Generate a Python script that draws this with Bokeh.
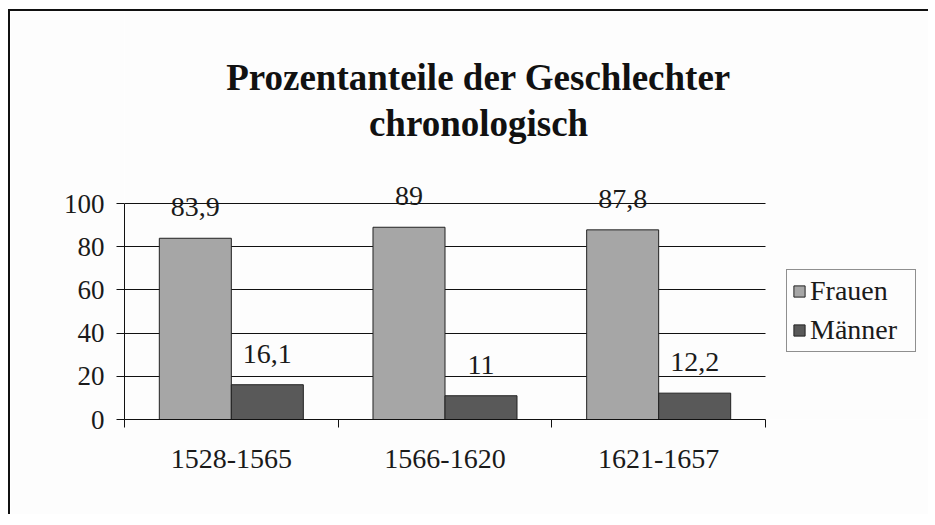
import numpy as np
from bokeh.plotting import figure
from bokeh.models import (Range1d, FixedTicker, ColumnDataSource, LabelSet, Label,
                          Legend, LegendItem)
from bokeh.embed import file_html
from bokeh.resources import INLINE

# ---- data ----
title_lines = ["Prozentanteile der Geschlechter", "chronologisch"]
categories = ["1528-1565", "1566-1620", "1621-1657"]
frauen = [83.9, 89, 87.8]
maenner = [16.1, 11, 12.2]
series_names = ["Frauen", "Männer"]
y_ticks = [0, 20, 40, 60, 80, 100]


def fmt(v):
    return f"{v:g}".replace(".", ",")


FONT = "Liberation Serif"
C_F = "#a6a6a6"
C_M = "#595959"
BG = "#fdfdfd"

# layout in page pixels: canvas origin (10, 11); value 0 at y=419, 100 at y=203;
# categories span x 124..765; frame extended to the top and right for title/legend
OX, OY = 10, 11
W, H = 920, 505
n = len(categories)
y_end = y_ticks[-1] * (419 - OY) / (419 - 203)
x_end = n * (OX + W - 124) / (765 - 124)

p = figure(width=W, height=H, output_backend="svg", toolbar_location=None,
           x_range=Range1d(0, x_end), y_range=Range1d(0, y_end),
           min_border_left=124 - OX, min_border_right=0, min_border_top=0,
           min_border_bottom=OY + H - 419,
           background_fill_color=BG, border_fill_color=BG, outline_line_color=None,
           styles={"margin-left": "8px", "margin-top": "9px",
                   "border-left": "2px solid #111", "border-top": "2px solid #111"})

idx = np.arange(n)
bw = 0.337
src = ColumnDataSource(dict(
    xf=idx + 0.5 - bw / 2, xm=idx + 0.5 + bw / 2,
    f=frauen, m=maenner,
    ft=[fmt(v) for v in frauen], mt=[fmt(v) for v in maenner]))

rf = p.vbar(x="xf", top="f", width=bw, source=src, fill_color=C_F,
            line_color="#222222", line_width=1)
rm = p.vbar(x="xm", top="m", width=bw, source=src, fill_color=C_M,
            line_color="#222222", line_width=1)

for xcol, ycol, tcol in (("xf", "f", "ft"), ("xm", "m", "mt")):
    p.add_layout(LabelSet(x=xcol, y=ycol, text=tcol, source=src, y_offset=22,
                          text_align="center", text_baseline="alphabetic",
                          text_font=FONT, text_font_size="28px", text_color="#1a1a1a"))

# axes / grid
p.xgrid.visible = False
p.ygrid.grid_line_color = "#111111"
p.ygrid.grid_line_width = 1
p.ygrid.cross_bounds = (0, n)
p.yaxis.ticker = FixedTicker(ticks=y_ticks)
p.yaxis.bounds = (y_ticks[0], y_ticks[-1])
p.yaxis.axis_line_color = "#111111"
p.yaxis.major_tick_line_color = "#111111"
p.yaxis.major_tick_out = 8
p.yaxis.major_tick_in = 0
p.yaxis.minor_tick_line_color = None
p.yaxis.major_label_standoff = 12
p.yaxis.major_label_text_font = FONT
p.yaxis.major_label_text_font_size = "27px"
p.yaxis.major_label_text_color = "#1a1a1a"

p.xaxis.ticker = FixedTicker(ticks=list(idx + 0.5), minor_ticks=list(range(n + 1)))
p.xaxis.major_label_overrides = {float(i + 0.5): c for i, c in enumerate(categories)}
p.xaxis.bounds = (0, n)
p.xaxis.axis_line_color = "#111111"
p.xaxis.major_tick_line_color = None
p.xaxis.major_tick_out = 0
p.xaxis.major_tick_in = 0
p.xaxis.minor_tick_line_color = "#111111"
p.xaxis.minor_tick_out = 8
p.xaxis.minor_tick_in = 0
p.xaxis.major_label_standoff = 22
p.xaxis.major_label_text_font = FONT
p.xaxis.major_label_text_font_size = "28px"
p.xaxis.major_label_text_color = "#1a1a1a"

# title (two centred lines), placed in value units above the plot area
for line, yv in zip(title_lines, (158.5, 137.2)):
    p.add_layout(Label(x=1.657, y=yv, text=line, text_align="center",
                       text_baseline="alphabetic", text_font=FONT,
                       text_font_size="37px", text_font_style="bold",
                       text_color="#111111"))

legend = Legend(items=[LegendItem(label=series_names[0], renderers=[rf]),
                       LegendItem(label=series_names[1], renderers=[rm])],
                location=(786 - 124, 419 - 352), orientation="vertical",
                label_text_font=FONT, label_text_font_size="28px",
                label_text_color="#1a1a1a", label_width=100,
                glyph_width=14, glyph_height=14, label_standoff=4,
                padding=5, spacing=7, margin=0,
                border_line_color="#222222", border_line_width=1,
                background_fill_color=BG, background_fill_alpha=1)
p.add_layout(legend, "center")

open("out.html", "w").write(file_html(p, INLINE))
